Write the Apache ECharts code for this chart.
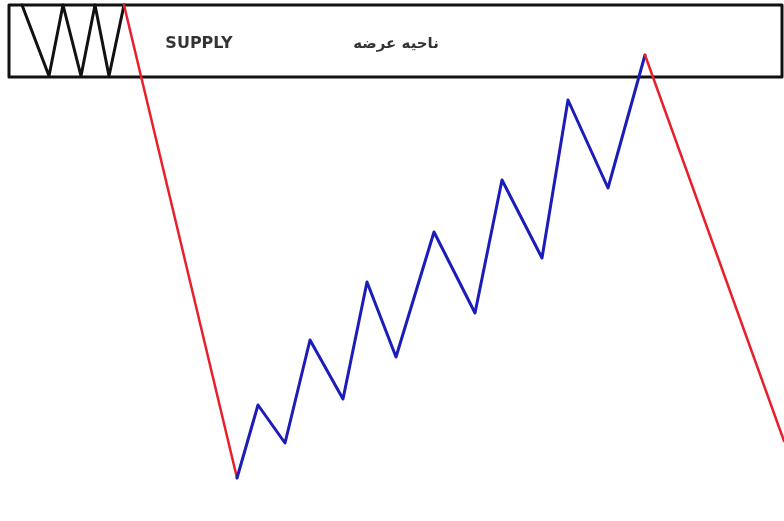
<!DOCTYPE html>
<html>
<head>
<meta charset="utf-8">
<script src="https://cdn.jsdelivr.net/npm/echarts@6/dist/echarts.min.js"></script>
<style>
  html, body { margin: 0; padding: 0; background: #fff; }
  #main { width: 784px; height: 521px; }
</style>
</head>
<body>
<div id="main"></div>
<script>
// all points in picture units (x right, y down)
const zoneBox = [[9, 5], [782, 5], [782, 77], [9, 77], [9, 5]]
const blackZigzag = [[22, 5], [49, 76], [63, 5], [81, 76], [95, 5], [109, 76], [124, 5]]
const redDrop = [[124, 5], [237, 478]]
const blueRally = [
  [237, 478], [258, 405], [285, 443], [310, 340], [343, 399], [367, 282],
  [396, 357], [434, 232], [475, 313], [502, 180], [542, 258], [568, 100],
  [608, 188], [645, 55]
]
const redFall = [[645, 55], [784, 441]]
const zoneLabels = [
  {value: [199, 44], text: 'SUPPLY', size: 16},
  {value: [396, 44], text: 'ناحیه عرضه', size: 15}
]

const chart = echarts.init(document.getElementById('main'))

const lineSeries = (data, color, width) => ({
  type: 'line',
  data: data,
  showSymbol: false,
  symbol: 'none',
  silent: true,
  animation: false,
  lineStyle: {color: color, width: width, join: 'round', cap: 'round'}
})

chart.setOption({
  backgroundColor: '#fff',
  grid: {left: 0, right: 0, top: 0, bottom: 0},
  xAxis: {type: 'value', min: 0, max: 784, show: false},
  yAxis: {type: 'value', min: 0, max: 521, inverse: true, show: false},
  series: [
    lineSeries(zoneBox, '#111', 3),
    lineSeries(blackZigzag, '#111', 3),
    lineSeries(redDrop, '#e8202c', 2.5),
    lineSeries(blueRally, '#1c1cb8', 3),
    lineSeries(redFall, '#e8202c', 2.5),
    {
      type: 'scatter',
      symbolSize: 0,
      silent: true,
      animation: false,
      data: zoneLabels.map(d => ({
        value: d.value,
        text: d.text,
        label: {fontSize: d.size}
      })),
      label: {
        show: true,
        position: 'inside',
        formatter: p => p.data.text,
        color: '#000',
        fontWeight: 'bold',
        fontFamily: 'DejaVu Sans'
      }
    }
  ]
})
</script>
</body>
</html>
